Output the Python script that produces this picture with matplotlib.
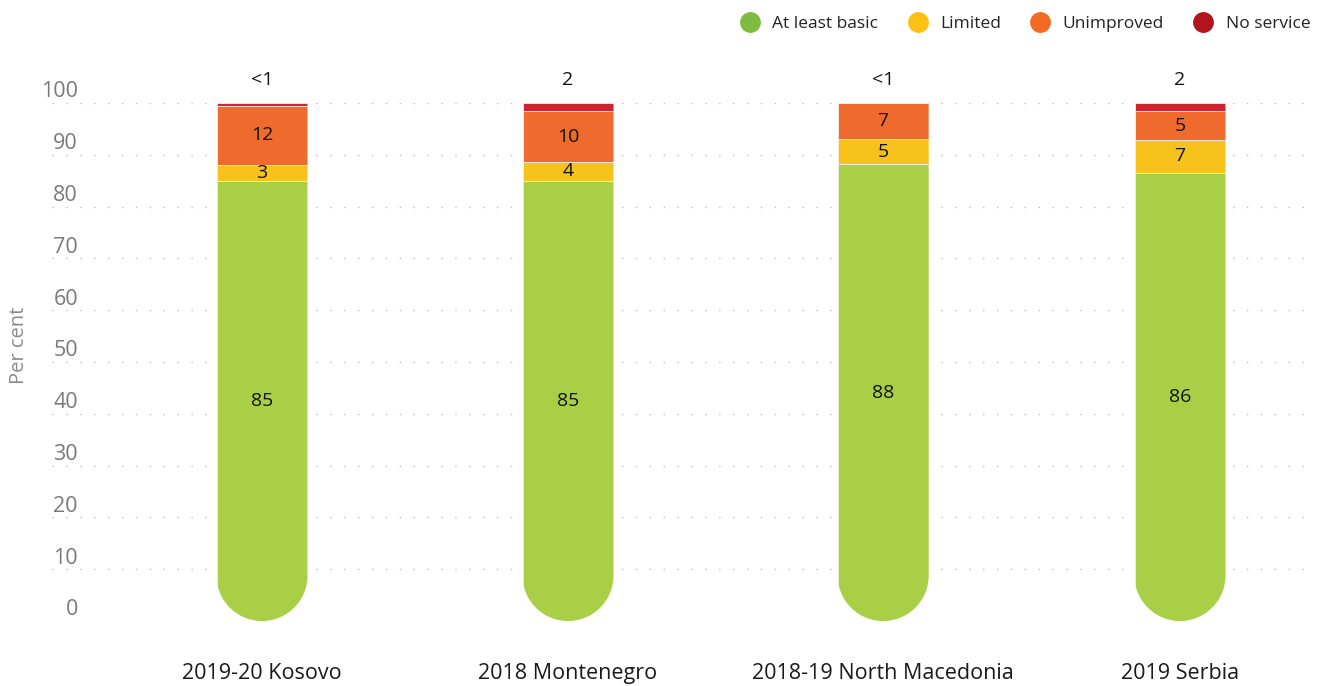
import numpy as np
import matplotlib
matplotlib.use("Agg")
import matplotlib.pyplot as plt
from matplotlib.path import Path
from matplotlib.patches import PathPatch
from matplotlib.lines import Line2D

plt.rcParams["font.family"] = ["Open Sans", "DejaVu Sans"]

# data
categories = ["2019-20 Kosovo", "2018 Montenegro", "2018-19 North Macedonia", "2019 Serbia"]
series = ["At least basic", "Limited", "Unimproved", "No service"]
at_least_basic = [85, 85, 88.2, 86.5]
limited = [3, 3.6, 4.8, 6.4]
unimproved = [11.5, 9.8, 7.0, 5.5]
no_service = [0.5, 1.6, 0.0, 1.6]

# printed labels
basic_labels = ["85", "85", "88", "86"]
limited_labels = ["3", "4", "5", "7"]
unimproved_labels = ["12", "10", "7", "5"]
no_service_labels = ["<1", "2", "<1", "2"]

y_ticks = list(range(0, 101, 10))

bar_colors = ["#a9cf46", "#f8c21c", "#ef6b2d", "#cc2531"]
legend_colors = ["#80bb41", "#fdc115", "#f26a24", "#b3141c"]

W, H = 1323, 686
fig = plt.figure(figsize=(W / 100, H / 100), dpi=100)
ax_left, ax_right = 52, 1310
ax_bottom, ax_top = 621, 103
ax = fig.add_axes([ax_left / W, 1 - ax_bottom / H, (ax_right - ax_left) / W, (ax_bottom - ax_top) / H])

x_pos = np.array([0, 1.0, 2.03, 3.0])
unit_px = 306
ax.set_xlim(-(262 - ax_left) / unit_px, (ax_right - 262) / unit_px)
ax.set_ylim(0, 100)
bar_w = 91 / unit_px

px_per_y = (ax_bottom - ax_top) / 100
r_y = (91 / 2) / px_per_y

stack = [at_least_basic, limited, unimproved, no_service]
bottoms = np.zeros(len(categories))
containers = []
for vals, col in zip(stack, bar_colors):
    c = ax.bar(x_pos, vals, bar_w, bottom=bottoms, color=col,
               edgecolor="#f3eee6", linewidth=0.6, zorder=3)
    containers.append(c)
    bottoms = bottoms + np.array(vals)

# tube shape with round bottom used to clip each bar
for i, x in enumerate(x_pos):
    a = bar_w / 2
    t = np.linspace(np.pi, 2 * np.pi, 60)
    pts = [(x - a, 102), (x - a, r_y)]
    pts += list(zip(x + a * np.cos(t), r_y + r_y * np.sin(t)))
    pts += [(x + a, r_y), (x + a, 102), (x - a, 102)]
    tube = PathPatch(Path(pts), transform=ax.transData, facecolor="none", edgecolor="none")
    ax.add_patch(tube)
    for c in containers:
        c.patches[i].set_clip_path(tube)

# labels inside segments
lab_kw = dict(ha="center", va="center", fontsize=14, color="#111111", zorder=5)
for i, x in enumerate(x_pos):
    g = at_least_basic[i]
    ax.text(x, g / 2, basic_labels[i], **lab_kw)
    ax.text(x, g + limited[i] / 2, limited_labels[i], **lab_kw)
    ax.text(x, g + limited[i] + unimproved[i] / 2, unimproved_labels[i], **lab_kw)
    ax.annotate(no_service_labels[i], xy=(x, 100), xytext=(0, 13), textcoords="offset points",
                ha="center", va="baseline", fontsize=14, color="#111111", annotation_clip=False)

# dotted gridlines, no line at 0
ax.set_yticks(y_ticks[1:])
ax.grid(axis="y", linestyle=(0, (1, 9)), color="#bdbdbd", linewidth=1.0)
ax.set_axisbelow(True)
ax.tick_params(axis="y", length=0, labelleft=False)
for v in y_ticks:
    ax.annotate(str(v), xy=((78 - ax_left) / (ax_right - ax_left), v), xycoords=("axes fraction", "data"),
                xytext=(0, 4), textcoords="offset points", ha="right", va="baseline",
                fontsize=15.5, color="#7a7a7a", annotation_clip=False)

ax.set_xticks(x_pos)
ax.set_xticklabels(categories, fontsize=15.5, color="#1a1a1a")
ax.tick_params(axis="x", length=0, pad=30)
for s in ax.spines.values():
    s.set_visible(False)

fig.text(19 / W, 1 - 345 / H, "Per cent", rotation=90, ha="center", va="center",
         fontsize=14.5, color="#8a8a8a")

handles = [Line2D([], [], marker="o", linestyle="none", markersize=14,
                  markerfacecolor=c, markeredgecolor=c) for c in legend_colors]
fig.legend(handles, series, loc="upper right", bbox_to_anchor=(1326 / W, 0.999), ncol=4,
           frameon=False, fontsize=12.5, handletextpad=0.3, columnspacing=1.25,
           labelcolor="#222222")

fig.savefig("out.png", dpi=100)
